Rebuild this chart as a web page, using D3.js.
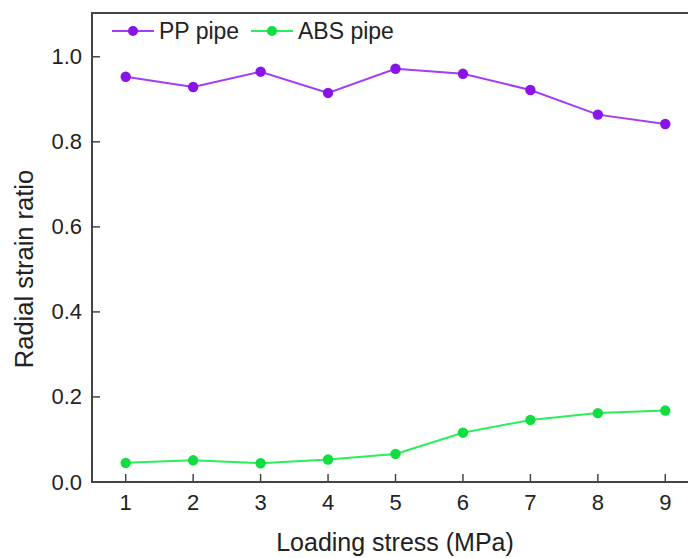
<!DOCTYPE html>
<html>
<head>
<meta charset="utf-8">
<script src="https://cdn.jsdelivr.net/npm/d3@7"></script>
<style>
  body { margin: 0; background: #fff; }
  svg { display: block; font-family: "Liberation Sans", Arial, sans-serif; }
</style>
</head>
<body>
<svg id="chart" width="688" height="558"></svg>
<script>
const stress = [1, 2, 3, 4, 5, 6, 7, 8, 9];
const ppRatio = [0.953, 0.929, 0.965, 0.915, 0.972, 0.960, 0.922, 0.864, 0.842];
const absRatio = [0.045, 0.051, 0.044, 0.053, 0.066, 0.116, 0.146, 0.162, 0.168];
const yTicks = [0.0, 0.2, 0.4, 0.6, 0.8, 1.0];

const series = [
  { name: "PP pipe", values: ppRatio, line: "#a43cf5", dot: "#8a14e6" },
  { name: "ABS pipe", values: absRatio, line: "#2aee5a", dot: "#10dd40" }
];

const svg = d3.select("#chart");
const plotLeft = 92, plotRight = 699, plotTop = 13, plotBottom = 482;

const x = d3.scaleLinear().domain([0.5, 9.5]).range([plotLeft, plotRight]);
const y = d3.scaleLinear().domain([0, 1.103]).range([plotBottom, plotTop]);

const frame = "#444";
const ink = "#222";

// frame (right side is cut off in the original)
svg.append("path")
  .attr("d", `M${plotRight},${plotTop}H${plotLeft}V${plotBottom}H${plotRight}`)
  .attr("fill", "none")
  .attr("stroke", frame)
  .attr("stroke-width", 2);

// x ticks (inward)
const xAxis = svg.append("g").attr("transform", `translate(0,${plotBottom})`);
xAxis.selectAll("line").data(stress).enter().append("line")
  .attr("x1", d => x(d)).attr("x2", d => x(d))
  .attr("y1", 0).attr("y2", -8)
  .attr("stroke", frame).attr("stroke-width", 1.5);
xAxis.selectAll("text").data(stress).enter().append("text")
  .attr("x", d => x(d)).attr("y", 28)
  .attr("text-anchor", "middle")
  .attr("font-size", 22).attr("fill", ink)
  .text(d => d);

// y ticks (inward)
const yAxis = svg.append("g").attr("transform", `translate(${plotLeft},0)`);
yAxis.selectAll("line").data(yTicks).enter().append("line")
  .attr("x1", 0).attr("x2", 8)
  .attr("y1", d => y(d)).attr("y2", d => y(d))
  .attr("stroke", frame).attr("stroke-width", 1.5);
yAxis.selectAll("text").data(yTicks).enter().append("text")
  .attr("x", -10).attr("y", d => y(d) + 7.5)
  .attr("text-anchor", "end")
  .attr("font-size", 22).attr("fill", ink)
  .text(d => d3.format(".1f")(d));

// axis titles
svg.append("text")
  .attr("x", 395).attr("y", 551)
  .attr("text-anchor", "middle")
  .attr("font-size", 25).attr("fill", ink)
  .text("Loading stress (MPa)");

svg.append("text")
  .attr("transform", "translate(33,269) rotate(-90)")
  .attr("text-anchor", "middle")
  .attr("font-size", 25.5).attr("fill", ink)
  .text("Radial strain ratio");

// series
const line = d3.line().x((d, i) => x(stress[i])).y(d => y(d));
series.forEach(s => {
  svg.append("path")
    .datum(s.values)
    .attr("d", line)
    .attr("fill", "none")
    .attr("stroke", s.line)
    .attr("stroke-width", 2);
  svg.append("g").selectAll("circle").data(s.values).enter().append("circle")
    .attr("cx", (d, i) => x(stress[i]))
    .attr("cy", d => y(d))
    .attr("r", 5.2)
    .attr("fill", s.dot);
});

// legend
const legendY = 31;
const legendX = [112, 251];
series.forEach((s, i) => {
  const g = svg.append("g").attr("transform", `translate(${legendX[i]},${legendY})`);
  g.append("line").attr("x1", 0).attr("x2", 42).attr("y1", 0).attr("y2", 0)
    .attr("stroke", s.line).attr("stroke-width", 2);
  g.append("circle").attr("cx", 21).attr("cy", 0).attr("r", 5).attr("fill", s.dot);
  g.append("text").attr("x", 47).attr("y", 8)
    .attr("font-size", 23).attr("fill", ink)
    .text(s.name);
});
</script>
</body>
</html>
